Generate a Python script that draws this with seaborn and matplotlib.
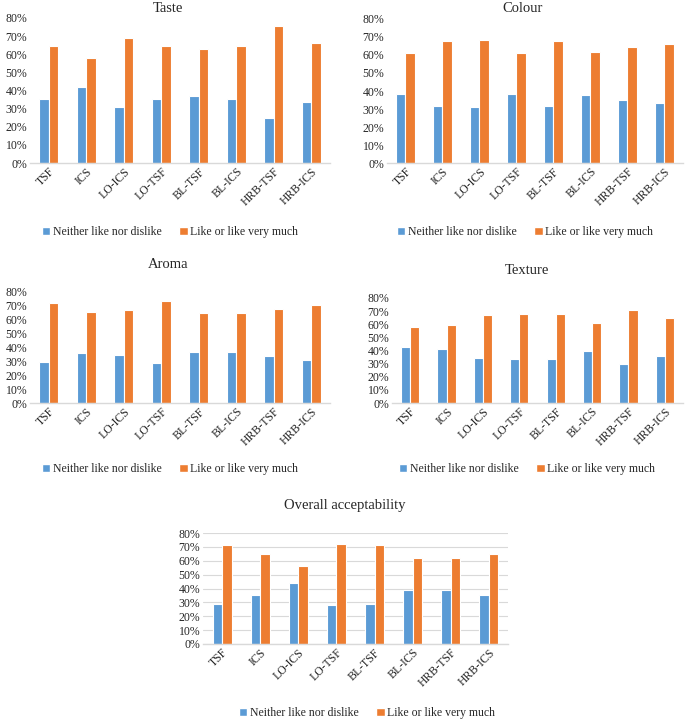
import numpy as np
import pandas as pd
import matplotlib
matplotlib.use("Agg")
import matplotlib.pyplot as plt
import seaborn as sns
from matplotlib.ticker import PercentFormatter
from matplotlib.patches import Patch

sns.set_style("white")
plt.rcParams["font.family"] = ["Liberation Serif", "DejaVu Serif"]

samples = ["TSF", "ICS", "LO-ICS", "LO-TSF", "BL-TSF", "BL-ICS", "HRB-TSF", "HRB-ICS"]
series = ["Neither like nor dislike", "Like or like very much"]

taste_neither = [35.3, 41.7, 31.1, 35.3, 36.8, 35.3, 24.6, 33.5]
taste_like = [64.7, 58.1, 68.9, 64.7, 63.1, 64.7, 75.6, 66.4]
colour_neither = [38.3, 31.8, 31.0, 38.3, 31.8, 37.5, 35.1, 33.3]
colour_like = [61.2, 67.7, 68.4, 61.2, 67.7, 61.9, 64.3, 66.2]
aroma_neither = [29.3, 35.7, 34.0, 28.3, 36.7, 36.7, 33.3, 31.0]
aroma_like = [71.7, 65.2, 66.7, 72.6, 64.5, 64.5, 67.4, 70.2]
texture_neither = [42.9, 41.4, 34.0, 33.2, 33.2, 39.8, 29.9, 35.5]
texture_like = [57.6, 59.4, 66.8, 67.5, 67.5, 60.9, 70.8, 65.0]
overall_neither = [28.9, 35.4, 44.3, 28.0, 28.9, 38.8, 38.8, 35.4]
overall_like = [71.6, 65.1, 55.9, 72.3, 71.6, 61.7, 61.7, 65.1]

colors = ["#5B9BD5", "#ED7D31"]
W, H = 685, 720

# (title, neither, like, axes box px (x0, y_top, x1, y_bottom), title pos, legend pos, grid)
panels = [
    ("Taste", taste_neither, taste_like, (30, 18, 330, 163), (168, 9), (170, 232), False),
    ("Colour", colour_neither, colour_like, (387, 19, 683, 163), (523, 9), (525, 232), False),
    ("Aroma", aroma_neither, aroma_like, (30, 291, 330, 403), (168, 265), (170, 469), False),
    ("Texture", texture_neither, texture_like, (392, 298, 683, 403), (527, 270), (527, 469), False),
    ("Overall acceptability", overall_neither, overall_like, (203, 533, 508, 644), (345, 506), (367, 713), True),
]

fig = plt.figure(figsize=(W / 100, H / 100), dpi=100)

for title, neither, like, box, tpos, lpos, grid in panels:
    x0, yt, x1, yb = box
    ax = fig.add_axes([x0 / W, 1 - yb / H, (x1 - x0) / W, (yb - yt) / H])
    df = pd.DataFrame({
        "sample": samples * 2,
        "group": [series[0]] * len(samples) + [series[1]] * len(samples),
        "value": neither + like,
    })
    sns.barplot(data=df, x="sample", y="value", hue="group", palette=colors, saturation=1,
                width=0.5, edgecolor="white", linewidth=0.8, ax=ax, legend=False)
    ax.set_ylim(0, 80)
    ax.set_yticks(np.arange(0, 81, 10))
    ax.yaxis.set_major_formatter(PercentFormatter(decimals=0))
    ax.set_xlabel("")
    ax.set_ylabel("")
    for s in ["top", "right", "left"]:
        ax.spines[s].set_visible(False)
    ax.spines["bottom"].set_color("#D9D9D9")
    ax.spines["bottom"].set_linewidth(1.0)
    ax.tick_params(axis="both", length=0, labelsize=8.5, pad=2)
    plt.setp(ax.get_xticklabels(), rotation=45, ha="right", rotation_mode="anchor")
    if grid:
        ax.yaxis.grid(True, color="#D9D9D9", linewidth=0.8)
        ax.set_axisbelow(True)
    fig.text(tpos[0] / W, 1 - tpos[1] / H, title, ha="center", va="center", fontsize=10.5)
    handles = [Patch(facecolor=c, edgecolor="white") for c in colors]
    fig.legend(handles, series, loc="center", bbox_to_anchor=(lpos[0] / W, 1 - lpos[1] / H),
               ncol=2, frameon=False, fontsize=8.5, handlelength=0.7, handleheight=0.7,
               handletextpad=0.2, columnspacing=1.5)

fig.savefig("out.png", dpi=100)
